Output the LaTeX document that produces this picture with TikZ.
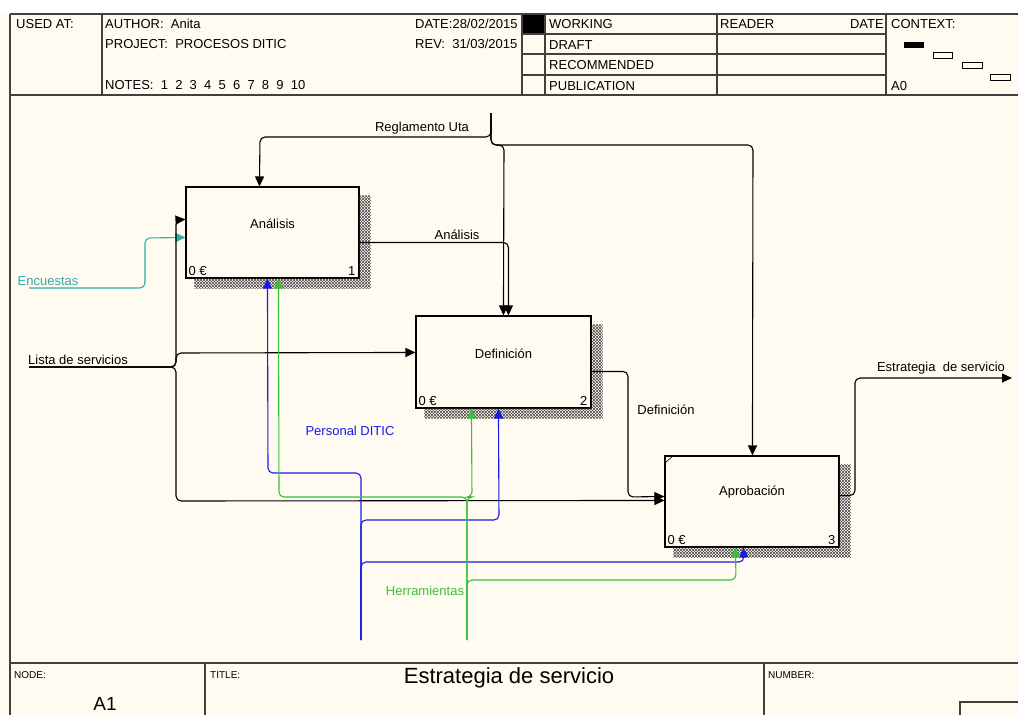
\documentclass[tikz,border=0pt]{standalone}
\usepackage{fontspec}
\setmainfont{Liberation Sans}
\usetikzlibrary{arrows.meta,patterns}
\definecolor{papel}{RGB}{255,251,240}
\definecolor{azul}{RGB}{25,25,235}
\definecolor{verde}{RGB}{60,190,60}
\definecolor{turquesa}{RGB}{50,170,170}

\begin{document}
\begin{tikzpicture}[x=1pt, y=-1pt,
    marco/.style={line width=1.3pt, draw=black!75},
    caja/.style={rectangle, draw, line width=1.1pt, fill=papel,
                 minimum width=174, minimum height=91, inner sep=0pt},
    txt/.style={font=\fontsize{13}{15}\selectfont, inner sep=0pt},
    pie/.style={font=\fontsize{10}{12}\selectfont, inner sep=0pt},
    flecha/.style={line width=1.1pt, rounded corners=5pt,
                   -{Triangle[length=10pt,width=9pt]}},
    sombra/.style={pattern=north east lines, pattern color=black!70,
                   preaction={pattern=north west lines, pattern color=black!70}}
]

% Fondo y marco
\fill[white] (0,0) rectangle (1018,715);
\fill[papel] (0,14) rectangle (1018,715);
\useasboundingbox (0,0) rectangle (1018,715);
\clip (0,0) rectangle (1018,715);

% Cabecera
\node[txt, anchor=base west] (usado) at (16,28) {USED AT:};
\node[txt, anchor=base west] (autor) at (105,28) {AUTHOR:\ \ Anita};
\node[txt, anchor=base west] (proy) at (105,48) {PROJECT:\ \ PROCESOS DITIC};
\node[txt, anchor=base west] (notas) at (105,89) {NOTES:\ \ 1\ \ 2\ \ 3\ \ 4\ \ 5\ \ 6\ \ 7\ \ 8\ \ 9\ \ 10};
\node[txt, anchor=base west] (fecha) at (415,28) {DATE:28/02/2015};
\node[txt, anchor=base west] (rev) at (415,48) {REV:\ \ 31/03/2015};
\node[txt, anchor=base west] (work) at (549,28) {WORKING};
\node[txt, anchor=base west] (draft) at (549,49) {DRAFT};
\node[txt, anchor=base west] (recom) at (549,69) {RECOMMENDED};
\node[txt, anchor=base west] (publ) at (549,90) {PUBLICATION};
\node[txt, anchor=base west] (lector) at (720,28) {READER};
\node[txt, anchor=base east] (fechalec) at (884,28) {DATE};
\node[txt, anchor=base west] (contexto) at (891,28) {CONTEXT:};
\node[txt, anchor=base west] (anodo) at (891,90) {A0};

\fill[black] (522,14) rectangle (545,34);
\draw[marco] (10,14) -- (1018,14);
\draw[marco] (10,95) -- (1018,95);
\draw[marco] (10,14) -- (10,715);
\foreach \xx in {102,522,545,717,886}
    \draw[marco] (\xx,14) -- (\xx,95);
\foreach \yy in {34,54,75}
    \draw[marco] (522,\yy) -- (886,\yy);

% Contexto
\fill[black] (904,42) rectangle (924,48);
\draw[line width=0.9pt] (933,52) rectangle (952,58);
\draw[line width=0.9pt] (962,62) rectangle (982,68);
\draw[line width=0.9pt] (990,74) rectangle (1010,80);

% Pie
\draw[marco] (10,663) -- (1018,663);
\foreach \xx in {205,764}
    \draw[marco] (\xx,663) -- (\xx,715);
\draw[marco] (960,715) |- (1018,702);
\node[pie, anchor=base west] (nodo) at (14,678) {NODE:};
\node[pie, anchor=base west] (titulo) at (210,678) {TITLE:};
\node[pie, anchor=base west] (numero) at (768,678) {NUMBER:};
\node[font=\fontsize{19}{22}\selectfont, inner sep=0pt] (aone) at (105,704) {A1};
\node[font=\fontsize{22}{26}\selectfont, inner sep=0pt] (titdiag) at (509,678) {Estrategia de servicio};

% Actividades
\node[caja, minimum width=173] (ana) at (272.5,232.5) {};
\node[caja, minimum width=175, minimum height=92] (def) at (503.5,362) {};
\node[caja] (apr) at (752,501.5) {};

\node[txt] (tana) at ([yshift=-37pt]ana.north) {Análisis};
\node[txt] (tdef) at ([yshift=-38pt]def.north) {Definición};
\node[txt] (tapr) at ([yshift=-37pt]apr.north) {Aprobación};
\draw[line width=0.6pt] ([yshift=-8pt]apr.north west) -- ([xshift=9pt]apr.north west);

\foreach \b/\n in {ana/1,def/2,apr/3}{
    \node[txt, anchor=south west] (costo\n) at ([xshift=3pt,yshift=3pt]\b.south west) {0 €};
    \node[txt, anchor=south east] (num\n) at ([xshift=-4pt,yshift=3pt]\b.south east) {\n};
    \fill[sombra] ([yshift=-9pt]\b.north east) -- ++(11,0) -- ([xshift=11pt,yshift=-10pt]\b.south east)
        -- ([xshift=9pt,yshift=-10pt]\b.south west) -- ([xshift=9pt]\b.south west) -- (\b.south east) -- cycle;
}

% Extremos libres
\coordinate (regsrc) at (491,113);
\coordinate (encsrc) at (29,288);
\coordinate (lstsrc) at (29,367);
\coordinate (estdst) at (1012,378);
\coordinate (persrc) at (361,640);
\coordinate (hersrc) at (467,640);

% Control: Reglamento Uta
\draw[flecha] (regsrc) |- (260,137) -- ([xshift=74pt]ana.north west);
\draw[flecha] (regsrc) |- (504,145) -- ([xshift=88pt]def.north west);
\draw[flecha] (regsrc) |- (753,145) -- ([xshift=88pt]apr.north west);
\node[txt] (lreg) at (422,128) {Reglamento Uta};

% Salidas
\draw[flecha] ([yshift=-56pt]ana.north east) -| ([xshift=93pt]def.north west);
\node[txt] (lana) at (457,235) {Análisis};
\draw[flecha] ([yshift=-56pt]def.north east) -| (628,497) -- ([yshift=-41pt]apr.north west);
\node[txt] (ldef) at (666,410) {Definición};
\draw[flecha] ([yshift=-40pt]apr.north east) -| (855,378) -- (estdst);
\node[txt] (lest) at (941,368) {Estrategia\ \ de servicio};

% Entradas
\draw[flecha, turquesa] (encsrc) -| (145,238) -- ([yshift=-51pt]ana.north west);
\node[txt, text=turquesa] (lenc) at (48,281) {Encuestas};
\draw[flecha] (lstsrc) -| (176,220) -- ([yshift=-33pt]ana.north west);
\draw[flecha] (lstsrc) -| (176,353) -- ([yshift=-37pt]def.north west);
\draw[flecha] (lstsrc) -| (176,501) -- ([yshift=-45pt]apr.north west);
\node[txt] (llst) at (78,360) {Lista de servicios};

% Mecanismos
\draw[flecha, azul] (persrc) |- (268,473) -- ([xshift=82pt]ana.south west);
\draw[flecha, azul] (persrc) |- (499,520) -- ([xshift=83pt]def.south west);
\draw[flecha, azul] (persrc) |- (744,562) -- ([xshift=79pt]apr.south west);
\node[txt, text=azul] (lper) at (350,431) {Personal DITIC};
\draw[flecha, verde] (hersrc) |- (279,497) -- ([xshift=93pt]ana.south west);
\draw[flecha, verde] (hersrc) |- (472,497) -- ([xshift=56pt]def.south west);
\draw[flecha, verde] (hersrc) |- (736,580) -- ([xshift=71pt]apr.south west);
\node[txt, text=verde] (lher) at (425,591) {Herramientas};

\end{tikzpicture}
\end{document}
